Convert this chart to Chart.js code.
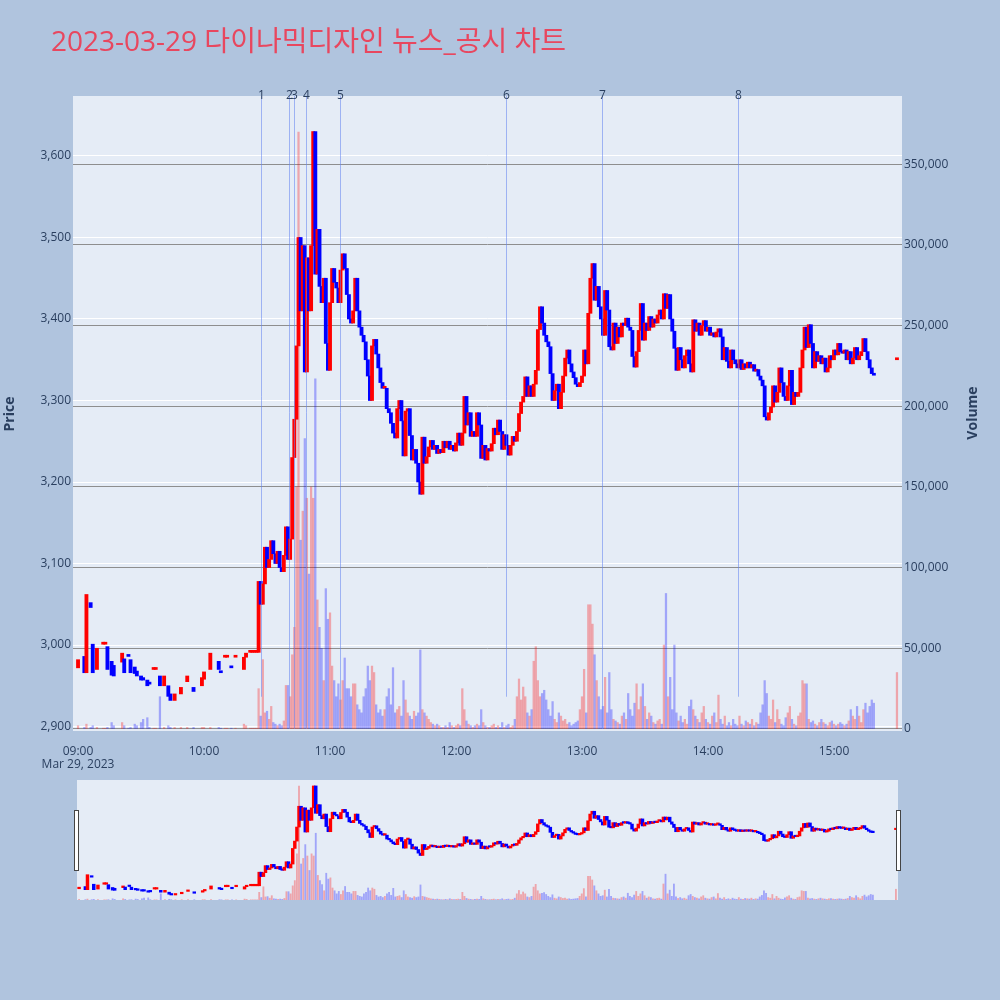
<!DOCTYPE html>
<html>
<head>
<meta charset="utf-8">
<script src="https://cdn.jsdelivr.net/npm/chart.js@4.4.0/dist/chart.umd.min.js"></script>
<style>
  body { margin: 0; background: #b0c4de; }
  #wrap { position: relative; width: 1000px; height: 1000px; }
  #main { position: absolute; left: 0; top: 0; }
  #slider { position: absolute; left: 77px; top: 780px; }
  .grip { position: absolute; top: 810px; width: 3px; height: 59px; background: #fff; border: 1px solid #444; }
</style>
</head>
<body>
<div id="wrap">
  <canvas id="main" width="1000" height="1000"></canvas>
  <canvas id="slider" width="821" height="120"></canvas>
  <div class="grip" style="left:74px"></div>
  <div class="grip" style="left:896px"></div>
</div>
<script>
const title = '2023-03-29 다이나믹디자인 뉴스_공시 차트';

// 오전 (체결이 드문 구간): 09:00 기준 분, 시가, 종가, 거래량(천주)
const amMinute = [0, 3, 4, 6, 7, 9, 12, 13, 14, 16, 17, 21, 22, 24, 25, 27, 28, 30, 31, 33, 34, 36, 37, 39, 41, 43, 44, 46, 49, 52, 55, 59, 60, 63, 67, 68, 70, 71, 73, 75, 79, 80, 82, 83, 84, 85];
const amOpen = [2972, 2986, 2966, 3052, 3001, 2970, 3001, 3001, 2998, 2980, 2975, 2979, 2983, 2987, 2982, 2973, 2968, 2962, 2960, 2957, 2953, 2970, 2970, 2962, 2950, 2950, 2940, 2932, 2940, 2955, 2948, 2950, 2958, 2970, 2980, 2967, 2985, 2985, 2973, 2985, 2970, 2985, 2991, 2991, 2991, 2991];
const amClose = [2982, 2966, 3062, 3046, 2966, 2996, 3001, 3001, 2970, 2963, 2962, 2990, 2966, 2986, 2966, 2965, 2962, 2957, 2957, 2950, 2952, 2970, 2970, 2950, 2962, 2937, 2932, 2940, 2948, 2962, 2943, 2960, 2967, 2990, 2970, 2966, 2985, 2985, 2972, 2985, 2985, 2990, 2991, 2991, 2991, 2991];
const amVolK = [2, 1, 3, 1, 2, 1, 0.5, 0.5, 1, 4, 2, 4, 2, 0.5, 1, 3, 2, 4, 6, 7, 1, 0.5, 0.5, 20, 1, 2, 1, 1, 1, 1, 1, 1, 1, 1, 1, 0.5, 0.5, 0.5, 0.5, 0.5, 3, 2, 0.5, 0.5, 0.5, 0.5];

// 10:26 부터 매분 종가 / 거래량(천주), 시가 = 직전 종가
const pmStart = 86;
const pmClose = [
  3078, 3050, 3075, 3120, 3095, 3105, 3128, 3112, 3100, 3115,
  3095, 3090, 3110, 3145, 3105, 3130, 3230, 3277, 3367, 3500,
  3410, 3490, 3335, 3475, 3410, 3490, 3630, 3455, 3510, 3440,
  3420, 3450, 3370, 3337, 3420, 3462, 3445, 3438, 3420, 3460,
  3480, 3462, 3430, 3400, 3395, 3410, 3450, 3410, 3390, 3380,
  3372, 3350, 3330, 3300, 3367, 3375, 3357, 3340, 3322, 3315,
  3315, 3290, 3285, 3272, 3260, 3254, 3290, 3300, 3275, 3232,
  3287, 3290, 3257, 3227, 3240, 3223, 3200, 3185, 3255, 3223,
  3231, 3243, 3251, 3240, 3245, 3235, 3240, 3236, 3250, 3242,
  3250, 3240, 3245, 3238, 3248, 3260, 3245, 3260, 3305, 3270,
  3285, 3256, 3262, 3256, 3285, 3270, 3229, 3245, 3227, 3241,
  3238, 3247, 3266, 3258, 3276, 3262, 3240, 3258, 3245, 3233,
  3245, 3256, 3250, 3262, 3284, 3298, 3305, 3329, 3305, 3318,
  3305, 3320, 3337, 3387, 3415, 3395, 3380, 3372, 3366, 3333,
  3300, 3312, 3320, 3290, 3310, 3330, 3352, 3362, 3345, 3335,
  3328, 3320, 3317, 3322, 3330, 3362, 3345, 3407, 3450, 3468,
  3423, 3440, 3415, 3400, 3380, 3435, 3411, 3366, 3362, 3395,
  3370, 3390, 3378, 3395, 3392, 3401, 3390, 3386, 3354, 3341,
  3360, 3386, 3419, 3374, 3395, 3386, 3403, 3390, 3400, 3395,
  3405, 3411, 3400, 3431, 3413, 3430, 3400, 3385, 3364, 3337,
  3365, 3350, 3340, 3355, 3362, 3345, 3335, 3399, 3385, 3395,
  3380, 3392, 3398, 3385, 3390, 3380, 3383, 3378, 3384, 3388,
  3378, 3350, 3365, 3348, 3340, 3362, 3350, 3345, 3340, 3350,
  3338, 3345, 3340, 3347, 3340, 3344, 3336, 3338, 3330, 3325,
  3318, 3280, 3276, 3285, 3292, 3318, 3298, 3310, 3340, 3322,
  3305, 3300, 3318, 3337, 3295, 3310, 3305, 3310, 3340, 3362,
  3390, 3365, 3393, 3370, 3340, 3360, 3348, 3355, 3345, 3352,
  3335, 3340, 3355, 3350, 3362, 3356, 3370, 3360, 3358, 3362,
  3350, 3360, 3345, 3352, 3365, 3350, 3355, 3360, 3376, 3360,
  3350, 3340, 3333, 3331
];
const pmVolK = [
  25, 8, 43, 10, 11, 6, 14, 4, 3, 2,
  3, 2, 5, 27, 27, 20, 46, 63, 150, 370,
  117, 135, 180, 143, 96, 150, 143, 217, 80, 63,
  50, 30, 87, 68, 72, 39, 30, 20, 28, 18,
  30, 44, 25, 25, 20, 28, 28, 15, 12, 10,
  20, 25, 39, 30, 39, 35, 15, 10, 12, 8,
  12, 20, 25, 15, 38, 10, 12, 14, 8, 30,
  18, 10, 8, 6, 11, 8, 10, 49, 12, 10,
  8, 6, 4, 3, 2, 3, 2, 1, 1, 2,
  1, 4, 2, 1, 2, 3, 2, 25, 12, 5,
  3, 2, 1, 2, 3, 2, 12, 4, 2, 1,
  1, 2, 3, 1, 2, 1, 4, 1, 2, 3,
  1, 2, 6, 20, 31, 18, 26, 20, 10, 8,
  12, 42, 51, 30, 20, 22, 24, 18, 12, 8,
  17, 6, 4, 10, 8, 5, 6, 3, 4, 2,
  3, 4, 5, 12, 20, 37, 10, 77, 77, 65,
  46, 30, 20, 12, 14, 32, 10, 35, 12, 6,
  5, 4, 3, 8, 10, 6, 22, 12, 8, 16,
  28, 12, 20, 28, 14, 6, 10, 8, 4, 3,
  5, 6, 3, 52, 84, 20, 32, 12, 52, 10,
  5, 8, 4, 6, 3, 14, 18, 12, 8, 6,
  4, 10, 14, 6, 4, 3, 8, 10, 4, 21,
  6, 3, 8, 2, 4, 2, 6, 3, 2, 8,
  3, 2, 5, 4, 3, 6, 2, 4, 3, 10,
  15, 30, 22, 8, 6, 18, 4, 12, 6, 3,
  2, 7, 10, 14, 6, 3, 2, 8, 10, 30,
  28, 28, 6, 4, 5, 3, 2, 4, 6, 4,
  3, 2, 4, 5, 3, 2, 3, 4, 3, 2,
  3, 5, 12, 8, 6, 14, 8, 4, 12, 16,
  10, 14, 18, 16
];

// 15:30 종가 단일가
const auctionMinute = [390];
const auctionOpen = [3350];
const auctionClose = [3352];
const auctionVolK = [35];

const priceTicks = [2900, 3000, 3100, 3200, 3300, 3400, 3500, 3600];
const volumeTicks = [0, 50000, 100000, 150000, 200000, 250000, 300000, 350000];
const hourTicks = [0, 60, 120, 180, 240, 300, 360];
const hourLabels = ['09:00', '10:00', '11:00', '12:00', '13:00', '14:00', '15:00'];
const dateLabel = 'Mar 29, 2023';

// 뉴스/공시 시점 (09:00 기준 분)
const eventMinute = [87, 100.5, 103, 108.4, 124.9, 203.7, 249.7, 314.4];
const eventLabel = ['1', '2', '3', '4', '5', '6', '7', '8'];
const eventLineEnd = [20000, 0, 0, 0, 0, 20000, 0, 20000];

// ---- build
const bars = [];
amMinute.forEach((m, i) => bars.push({ m, o: amOpen[i], c: amClose[i], v: amVolK[i] * 1000 }));
let prev = amClose[amClose.length - 1];
pmClose.forEach((c, i) => {
  bars.push({ m: pmStart + i, o: prev, c, v: pmVolK[i] * 1000 });
  prev = c;
});
auctionMinute.forEach((m, i) => bars.push({ m, o: auctionOpen[i], c: auctionClose[i], v: auctionVolK[i] * 1000 }));

const UP = '#ff0000', DOWN = '#0000ff';
const bodyData = bars.map(b => ({ x: b.m, y: [b.o, b.c] }));
const bodyColor = bars.map(b => b.c >= b.o ? UP : DOWN);
const volData = bars.map(b => ({ x: b.m, y: b.v }));
const volColor = bars.map(b => b.c >= b.o ? 'rgba(255,0,0,0.3)' : 'rgba(0,0,255,0.3)');

const tickColor = '#2a3f5f';
const tickFont = { family: '"Open Sans", sans-serif', size: 12 };
const fmt = v => Number(v).toLocaleString('en-US');

const plotBg = {
  id: 'plotBg',
  beforeDraw(chart) {
    const { ctx, chartArea: a } = chart;
    ctx.save();
    ctx.fillStyle = '#e5ecf6';
    ctx.fillRect(a.left, a.top, a.right - a.left, a.bottom - a.top);
    ctx.restore();
  }
};

const eventLines = {
  id: 'eventLines',
  afterDatasetsDraw(chart) {
    const { ctx, chartArea: a, scales } = chart;
    ctx.save();
    ctx.font = '12px "Open Sans", sans-serif';
    ctx.textAlign = 'center';
    ctx.textBaseline = 'middle';
    eventMinute.forEach((m, i) => {
      const px = Math.round(scales.x.getPixelForValue(m)) + 0.5;
      const end = Math.min(a.bottom, scales.yv.getPixelForValue(eventLineEnd[i]));
      ctx.strokeStyle = 'rgba(99,132,240,0.55)';
      ctx.lineWidth = 1;
      ctx.beginPath();
      ctx.moveTo(px, a.top);
      ctx.lineTo(px, end);
      ctx.stroke();
      ctx.fillStyle = tickColor;
      ctx.fillText(eventLabel[i], px, a.top);
    });
    ctx.restore();
  }
};

const texts = {
  id: 'texts',
  afterDraw(chart) {
    const { ctx } = chart;
    ctx.save();
    ctx.fillStyle = '#e8475f';
    ctx.font = '28px "Open Sans", "Noto Sans CJK KR", sans-serif';
    ctx.textAlign = 'left';
    ctx.textBaseline = 'alphabetic';
    ctx.fillText(title, 51, 51);

    ctx.fillStyle = tickColor;
    ctx.font = 'bold 14px "Open Sans", sans-serif';
    ctx.textAlign = 'center';
    ctx.textBaseline = 'middle';
    ctx.translate(10, 414);
    ctx.rotate(-Math.PI / 2);
    ctx.fillText('Price', 0, 0);
    ctx.restore();

    ctx.save();
    ctx.fillStyle = tickColor;
    ctx.font = 'bold 14px "Open Sans", sans-serif';
    ctx.textAlign = 'center';
    ctx.textBaseline = 'middle';
    ctx.translate(973, 413);
    ctx.rotate(-Math.PI / 2);
    ctx.fillText('Volume', 0, 0);
    ctx.restore();
  }
};

new Chart(document.getElementById('main'), {
  type: 'bar',
  data: {
    datasets: [
      { data: volData, yAxisID: 'yv', backgroundColor: volColor, barThickness: 1.6, grouped: false, order: 2 },
      { data: bodyData, yAxisID: 'y', backgroundColor: bodyColor, barThickness: 3.2, minBarLength: 2, grouped: false, order: 1 }
    ]
  },
  options: {
    responsive: false,
    animation: false,
    devicePixelRatio: 1,
    events: [],
    layout: { padding: { top: 96, left: 0, right: 0, bottom: 0 } },
    plugins: { legend: { display: false }, tooltip: { enabled: false } },
    scales: {
      x: {
        type: 'linear',
        offset: false,
        min: -2.4,
        max: 392.4,
        grid: { display: false },
        border: { display: false },
        afterBuildTicks: s => { s.ticks = hourTicks.map(v => ({ value: v })); },
        ticks: {
          color: tickColor,
          font: { ...tickFont, lineHeight: 1.1 },
          padding: 6,
          maxRotation: 0,
          autoSkip: false,
          callback: v => {
            const i = hourTicks.indexOf(v);
            return i === 0 ? [hourLabels[i], dateLabel] : hourLabels[i];
          }
        },
        afterFit: s => { s.height = 269; }
      },
      y: {
        position: 'left',
        min: 2894.5,
        max: 3673.6,
        afterBuildTicks: s => { s.ticks = priceTicks.map(v => ({ value: v })); },
        grid: { color: '#ffffff', lineWidth: 1, drawTicks: false },
        border: { display: false },
        ticks: { color: tickColor, font: tickFont, padding: 2, callback: fmt },
        afterFit: s => { s.width = 73; }
      },
      yv: {
        position: 'right',
        min: -1240,
        max: 392300,
        afterBuildTicks: s => { s.ticks = volumeTicks.map(v => ({ value: v })); },
        grid: { color: '#8e8e8e', lineWidth: 1, drawTicks: false },
        border: { display: false },
        ticks: { color: tickColor, font: tickFont, padding: 2, callback: fmt },
        afterFit: s => { s.width = 98; }
      }
    }
  },
  plugins: [plotBg, eventLines, texts]
});

// 하단 범위 슬라이더 (전체 구간 미니 차트)
new Chart(document.getElementById('slider'), {
  type: 'bar',
  data: {
    datasets: [
      { data: volData, yAxisID: 'yv', backgroundColor: volColor, barThickness: 1.2, grouped: false, order: 2 },
      { data: bodyData, yAxisID: 'y', backgroundColor: bodyColor, barThickness: 2.8, minBarLength: 1.5, grouped: false, order: 1 }
    ]
  },
  options: {
    responsive: false,
    animation: false,
    devicePixelRatio: 1,
    events: [],
    layout: { padding: 0 },
    plugins: { legend: { display: false }, tooltip: { enabled: false } },
    scales: {
      x: { type: 'linear', offset: false, min: -1, max: 391, display: false },
      y: { min: 2900, max: 3668, display: false },
      yv: { position: 'right', min: 0, max: 390000, display: false }
    }
  },
  plugins: [plotBg]
});
</script>
</body>
</html>
